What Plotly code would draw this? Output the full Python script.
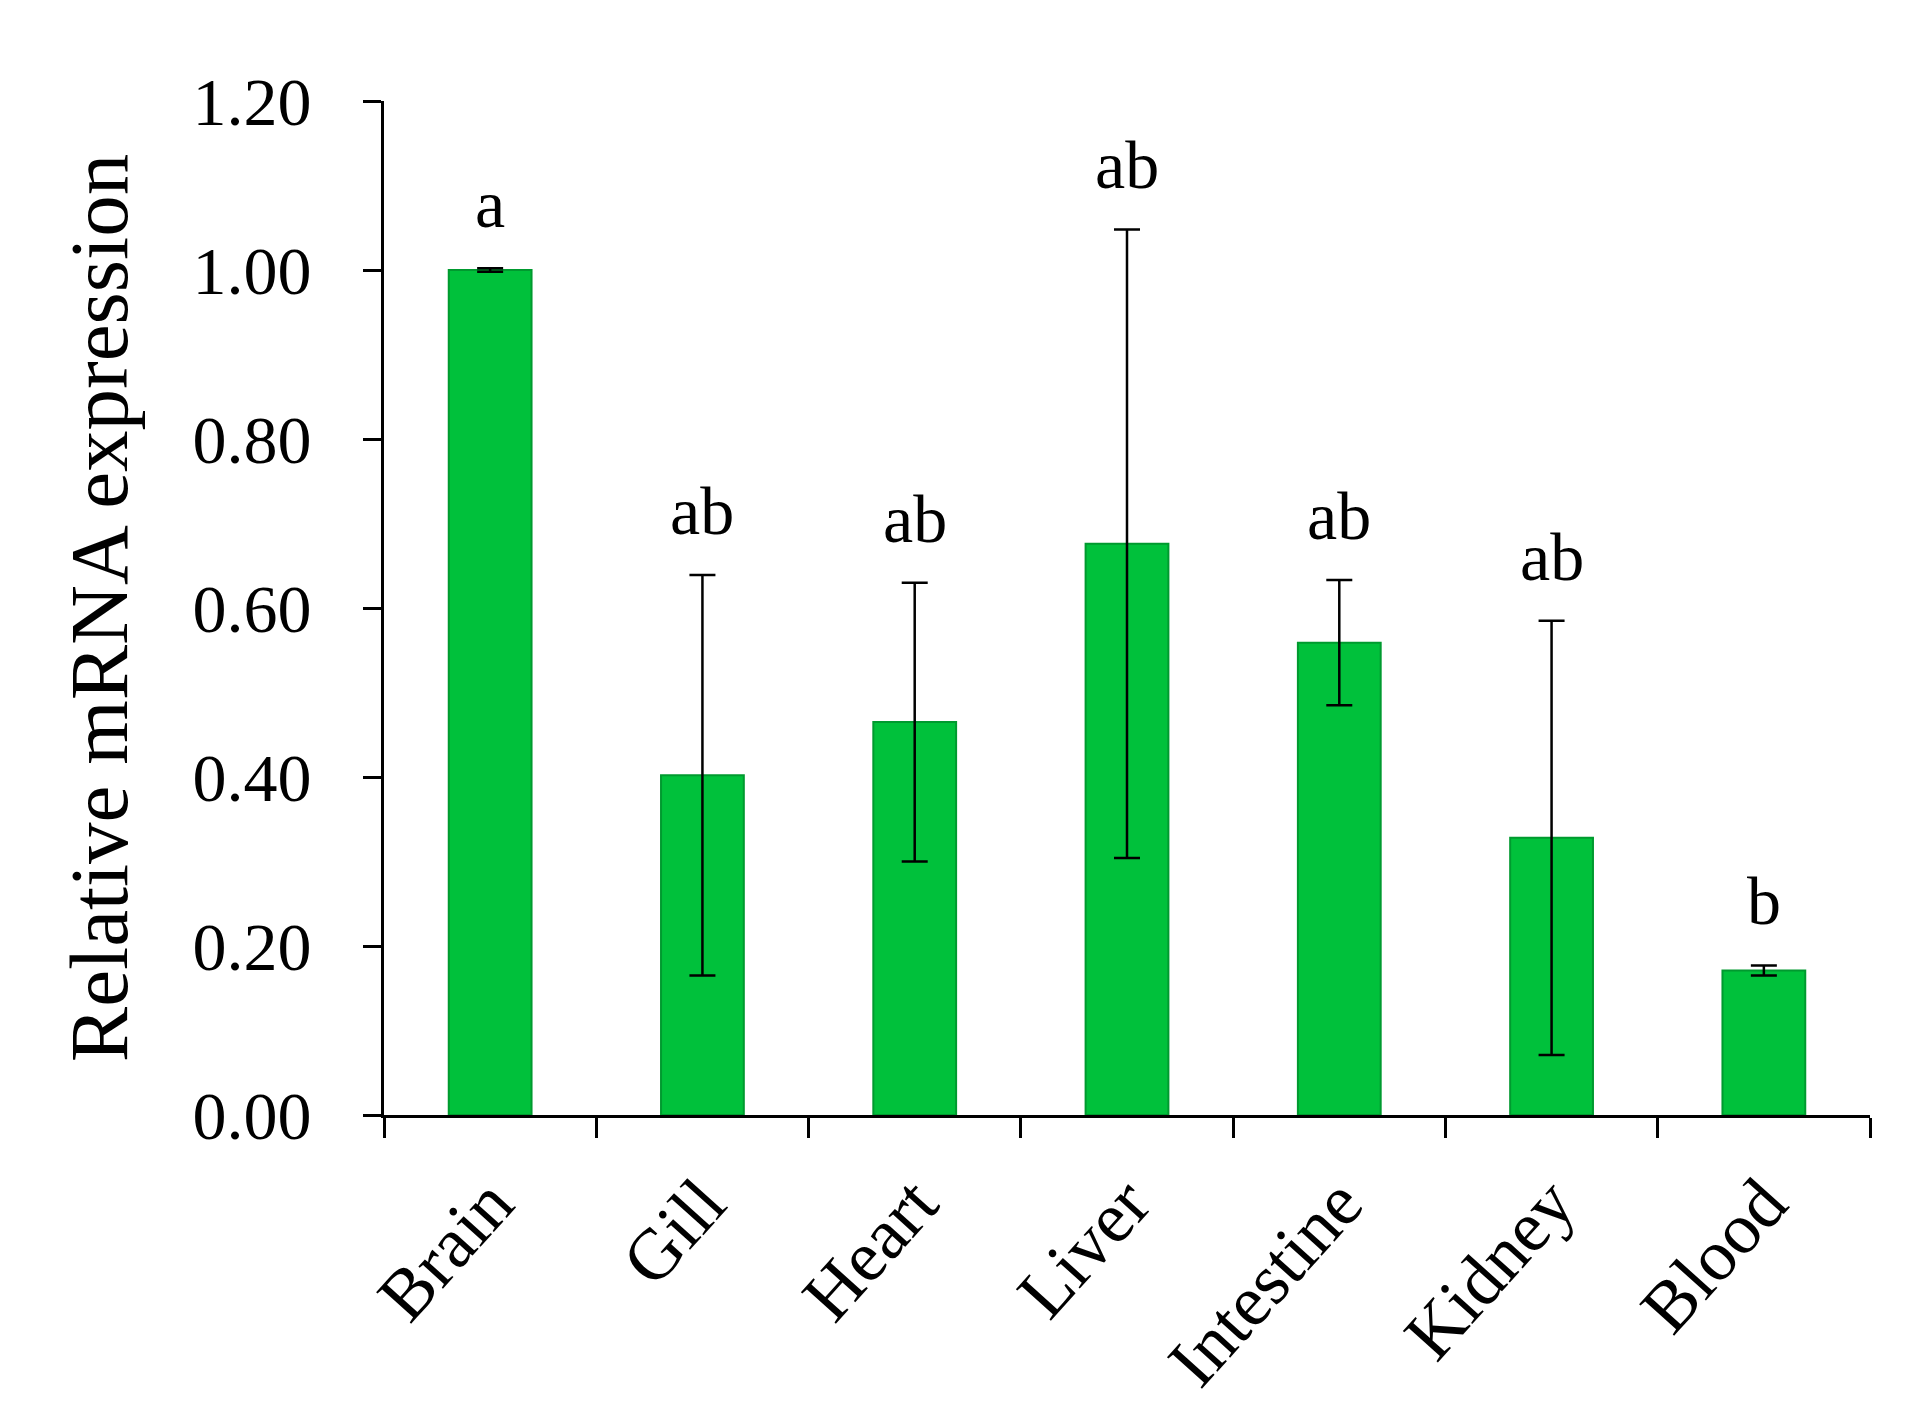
import plotly.graph_objects as go

tissues = ["Brain", "Gill", "Heart", "Liver", "Intestine", "Kidney", "Blood"]
expression = [1.00, 0.402, 0.465, 0.676, 0.559, 0.328, 0.171]
error = [0.002, 0.237, 0.165, 0.372, 0.074, 0.257, 0.006]
letters = ["a", "ab", "ab", "ab", "ab", "ab", "b"]

FONT = "Liberation Serif, Times New Roman, serif"

fig = go.Figure()
fig.add_trace(go.Bar(
    x=tissues, y=expression,
    marker=dict(color="#00c13b", line=dict(color="#009a2f", width=2)),
    error_y=dict(type="data", array=error, visible=True, color="black",
                 thickness=2.5, width=13),
    showlegend=False,
))

for t, v, e, lab in zip(tissues, expression, error, letters):
    fig.add_annotation(x=t, y=v + e, text=lab, showarrow=False,
                       yanchor="bottom", yshift=24,
                       font=dict(family=FONT, size=68, color="black"))

fig.update_layout(
    width=1921, height=1419,
    paper_bgcolor="white", plot_bgcolor="white",
    margin=dict(l=376, r=59, t=93, b=312),
    bargap=0.61,
    font=dict(family=FONT, color="black"),
)
fig.update_xaxes(
    showline=True, linecolor="black", linewidth=3,
    ticks="outside", tickson="boundaries", ticklen=20, tickwidth=3,
    tickcolor="black", tickangle=-48, ticklabelstandoff=14,
    tickfont=dict(family=FONT, size=72, color="black"),
    showgrid=False, zeroline=False,
)
fig.update_yaxes(
    range=[0, 1.2], dtick=0.2, tickformat=".2f",
    showline=True, linecolor="black", linewidth=3,
    ticks="outside", ticklen=18, tickwidth=3, tickcolor="black",
    ticklabelstandoff=38,
    tickfont=dict(family=FONT, size=68, color="black"),
    showgrid=False, zeroline=False,
    title=dict(text="Relative mRNA expression", standoff=38,
               font=dict(family=FONT, size=83, color="black")),
)

fig.write_html("out.html")
